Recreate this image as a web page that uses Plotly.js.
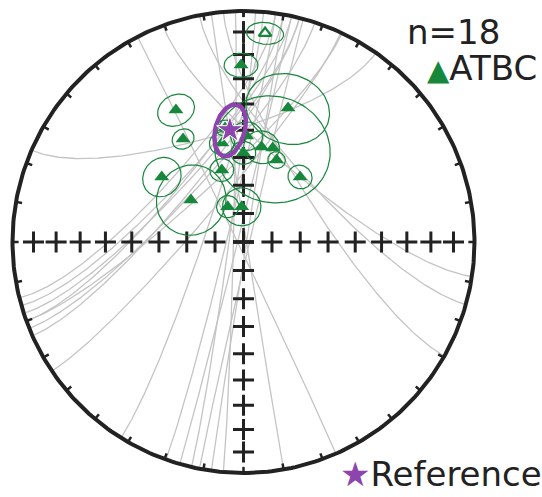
<!DOCTYPE html>
<html>
<head>
<meta charset="utf-8">
<script src="https://cdn.plot.ly/plotly-3.0.1.min.js"></script>
<style>
  html, body { margin: 0; padding: 0; background: #fff; }
  #plot { width: 542px; height: 497px; }
</style>
</head>
<body>
<div id="plot"></div>
<script>
// Site mean directions after tilt correction (degrees)
const siteDec = [5.9, 359.2, 332.9, 18.4, 329.6, 1.7, 10.8, 17.3, 22.0, 359.9, 343.2, 41.0, 308.5, 308.7, 335.9, 357.1, 350.8, 347.7];
const siteInc = [-10.0, 24.4, 36.0, 38.8, 47.1, 52.1, 55.6, 54.9, 58.6, 58.3, 63.4, 59.4, 52.7, 66.2, 76.4, 77.6, 48.6, 53.9];
const siteA95 = [5.0, 5.0, 6.0, 13.5, 3.7, 5.3, 6.0, 19.6, 3.0, 4.2, 4.1, 4.2, 6.8, 12.3, 3.9, 6.7, 3.0, 4.2];

// Reference direction and its confidence ellipse (semi-axes in degrees)
const refDec = [353.1];
const refInc = [49.6];
const refMajor = [9.8];
const refMinor = [4.9];
const refTwist = [18];   // major axis rotation from the up-dip direction, degrees

// Vertical planes traced by the bedding rotation: azimuths where each meets the primitive
const pathAzA = [293.4, 256, 254, 252, 250, 248, 246, 236, 212, 199.6, 196, 193, 191, 188, 185, 170, 156.4, 339.6, 349, 355, 25.3];
const pathAzB = [35, 8, 12, 14, 10, 18, 14, 25, 5, 8, 12, 3, 15, 10, 358, 352, 332.7, 98.6, 105.7, 119.6, 250];

const countLabel = 'n=18';
const seriesLabel = 'ATBC';
const refLabel = 'Reference';

const GREEN = '#17873b', PURPLE = '#8e44ad', GREY = '#c4c4c4', INK = '#222222';
const D2R = Math.PI / 180;

function dirVec(dec, inc) {
  const d = dec * D2R, i = inc * D2R;
  return [Math.cos(i) * Math.cos(d), Math.cos(i) * Math.sin(d), Math.sin(i)];
}
function norm(v) { const n = Math.hypot(v[0], v[1], v[2]); return [v[0] / n, v[1] / n, v[2] / n]; }
function cross(a, b) { return [a[1] * b[2] - a[2] * b[1], a[2] * b[0] - a[0] * b[2], a[0] * b[1] - a[1] * b[0]]; }
// Lambert equal-area projection (x east, y north); upper hemisphere folded onto the same net
function project(v) {
  const u = norm(v);
  const h = Math.hypot(u[0], u[1]);
  const r = Math.sqrt(Math.max(0, 1 - Math.abs(u[2])));
  if (h < 1e-12) return [0, 0];
  return [r * u[1] / h, r * u[0] / h];
}

const traces = [];

// bedding-rotation paths
{
  const xs = [], ys = [];
  for (let k = 0; k < pathAzA.length; k++) {
    const p1 = [Math.cos(pathAzA[k] * D2R), Math.sin(pathAzA[k] * D2R), 0];
    const p2 = [Math.cos(pathAzB[k] * D2R), Math.sin(pathAzB[k] * D2R), 0];
    const c0 = [(p1[0] + p2[0]) / 2, (p1[1] + p2[1]) / 2, 0];
    const dv = [p2[0] - p1[0], p2[1] - p1[1], 0];
    const len = Math.hypot(dv[0], dv[1]);
    const u = [dv[0] / len, dv[1] / len, 0];
    const rad = len / 2;
    for (let s = 0; s <= 180; s += 1) {
      const t = s * D2R;
      const v = [c0[0] - rad * Math.cos(t) * u[0], c0[1] - rad * Math.cos(t) * u[1], rad * Math.sin(t)];
      const xy = project(v);
      xs.push(xy[0]); ys.push(xy[1]);
    }
    xs.push(null); ys.push(null);
  }
  traces.push({ x: xs, y: ys, mode: 'lines', line: { color: GREY, width: 1.3 }, hoverinfo: 'skip' });
}

// primitive circle
{
  const xs = [], ys = [];
  for (let d = 0; d <= 360; d++) { const xy = project(dirVec(d, 0)); xs.push(xy[0]); ys.push(xy[1]); }
  traces.push({ x: xs, y: ys, mode: 'lines', line: { color: INK, width: 4 }, hoverinfo: 'skip' });
}
// declination ticks every 10 degrees
{
  const xs = [], ys = [];
  for (let d = 0; d < 360; d += 10) {
    const a = project(dirVec(d, 0)), b = project(dirVec(d, 3));
    xs.push(a[0], b[0], null); ys.push(a[1], b[1], null);
  }
  traces.push({ x: xs, y: ys, mode: 'lines', line: { color: INK, width: 2.5 }, hoverinfo: 'skip' });
}
// north axis dashes
{
  const a = project(dirVec(0, 90)), b = project(dirVec(0, 0));
  traces.push({ x: [a[0], b[0]], y: [a[1], b[1]], mode: 'lines', line: { color: INK, width: 2.5, dash: '5px,4px' }, hoverinfo: 'skip' });
}
// inclination crosses every 10 degrees along the four axes
{
  const xs = [], ys = [];
  for (const d of [0, 90, 180, 270]) {
    for (let i = 10; i <= 90; i += 10) { const xy = project(dirVec(d, i)); xs.push(xy[0]); ys.push(xy[1]); }
  }
  traces.push({ x: xs, y: ys, mode: 'markers', marker: { symbol: 'cross-thin', size: 15, line: { color: INK, width: 3 } }, hoverinfo: 'skip' });
}

// alpha95 circles
{
  const xs = [], ys = [];
  for (let k = 0; k < siteDec.length; k++) {
    const c = dirVec(siteDec[k], siteInc[k]);
    let u = cross(c, [0, 0, 1]);
    if (Math.hypot(u[0], u[1], u[2]) < 1e-9) u = [1, 0, 0];
    u = norm(u);
    const v = cross(c, u);
    const a = siteA95[k] * D2R;
    for (let s = 0; s <= 360; s += 3) {
      const t = s * D2R;
      const p = [0, 1, 2].map(j => Math.cos(a) * c[j] + Math.sin(a) * (Math.cos(t) * u[j] + Math.sin(t) * v[j]));
      const xy = project(p); xs.push(xy[0]); ys.push(xy[1]);
    }
    xs.push(null); ys.push(null);
  }
  traces.push({ x: xs, y: ys, mode: 'lines', line: { color: GREEN, width: 1.2 }, hoverinfo: 'skip' });
}

// site means: filled = lower hemisphere, open = upper hemisphere
{
  const lo = { x: [], y: [] }, up = { x: [], y: [] };
  for (let k = 0; k < siteDec.length; k++) {
    const xy = project(dirVec(siteDec[k], siteInc[k]));
    const tgt = siteInc[k] >= 0 ? lo : up;
    tgt.x.push(xy[0]); tgt.y.push(xy[1]);
  }
  traces.push({ x: lo.x, y: lo.y, mode: 'markers', marker: { symbol: 'triangle-up', size: 13, color: GREEN }, hoverinfo: 'skip' });
  traces.push({ x: up.x, y: up.y, mode: 'markers', marker: { symbol: 'triangle-up-open', size: 11, color: GREEN, line: { color: GREEN, width: 2.4 } }, hoverinfo: 'skip' });
}

// reference confidence ellipse and direction
{
  const c = dirVec(refDec[0], refInc[0]);
  const d = refDec[0] * D2R, i = refInc[0] * D2R;
  const eOut = [Math.sin(i) * Math.cos(d), Math.sin(i) * Math.sin(d), -Math.cos(i)];
  const eEast = [-Math.sin(d), Math.cos(d), 0];
  const b = refTwist[0] * D2R;
  const e1 = [0, 1, 2].map(j => Math.cos(b) * eOut[j] + Math.sin(b) * eEast[j]);
  const e2 = [0, 1, 2].map(j => -Math.sin(b) * eOut[j] + Math.cos(b) * eEast[j]);
  const ta = Math.tan(refMajor[0] * D2R), tb = Math.tan(refMinor[0] * D2R);
  const xs = [], ys = [];
  for (let s = 0; s <= 360; s += 3) {
    const t = s * D2R;
    const p = [0, 1, 2].map(j => c[j] + ta * Math.cos(t) * e1[j] + tb * Math.sin(t) * e2[j]);
    const xy = project(p); xs.push(xy[0]); ys.push(xy[1]);
  }
  traces.push({ x: xs, y: ys, mode: 'lines', line: { color: PURPLE, width: 4.5 }, hoverinfo: 'skip' });
  const m = project(c);
  traces.push({ x: [m[0]], y: [m[1]], mode: 'markers', marker: { symbol: 'star', size: 20, color: PURPLE, line: { color: '#ffffff', width: 1 } }, hoverinfo: 'skip' });
}

const W = 542, H = 497, CX = 243.5, CY = 242, RPX = 231;
const layout = {
  width: W, height: H,
  margin: { l: 0, r: 0, t: 0, b: 0 },
  paper_bgcolor: '#ffffff', plot_bgcolor: '#ffffff',
  showlegend: false,
  xaxis: { visible: false, range: [-CX / RPX, (W - CX) / RPX], fixedrange: true },
  yaxis: { visible: false, range: [-(H - CY) / RPX, CY / RPX], fixedrange: true },
  font: { family: 'DejaVu Sans', color: INK },
  annotations: [
    { xref: 'paper', yref: 'paper', x: 0.927, y: 1 - 32 / H, xanchor: 'right', yanchor: 'middle', showarrow: false,
      text: countLabel, font: { size: 34, color: INK, family: 'DejaVu Sans' } },
    { xref: 'paper', yref: 'paper', x: 0.995, y: 1 - 68 / H, xanchor: 'right', yanchor: 'middle', showarrow: false,
      text: '<span style="color:' + GREEN + ';font-size:29px">▲</span>' + seriesLabel, font: { size: 34, color: INK, family: 'DejaVu Sans' } },
    { xref: 'paper', yref: 'paper', x: 1.003, y: 1 - 474 / H, xanchor: 'right', yanchor: 'middle', showarrow: false,
      text: '<span style="color:' + PURPLE + '">★</span>' + refLabel, font: { size: 34, color: INK, family: 'DejaVu Sans' } }
  ]
};

Plotly.newPlot('plot', traces, layout, { staticPlot: true, displayModeBar: false });
</script>
</body>
</html>
